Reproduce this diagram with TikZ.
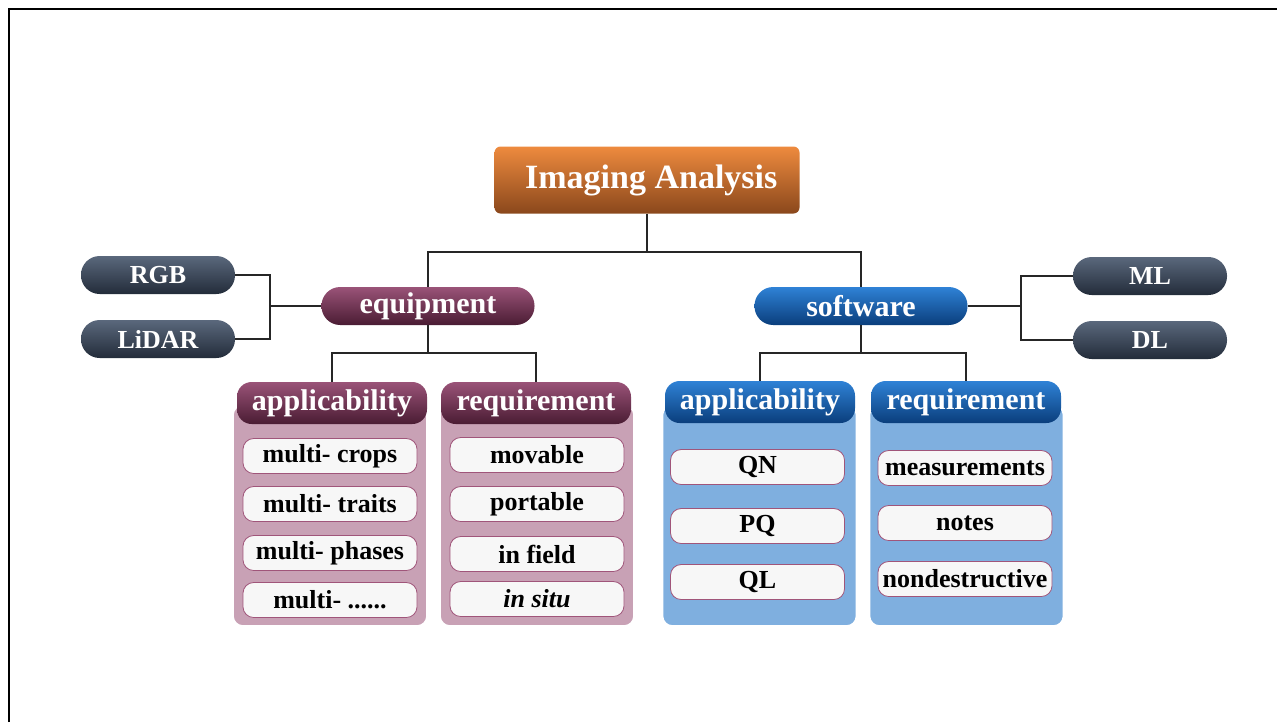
\documentclass[tikz,border=0pt]{standalone}
\usepackage{fontspec}
\setmainfont{Liberation Serif}

\definecolor{orangetop}{HTML}{EE8A3E}
\definecolor{orangebot}{HTML}{8A481C}
\definecolor{plumtop}{HTML}{9A5378}
\definecolor{plumbot}{HTML}{4A1C33}
\definecolor{plumpanel}{HTML}{C8A1B5}
\definecolor{plumline}{HTML}{A0557A}
\definecolor{bluetop}{HTML}{2F82D6}
\definecolor{bluebot}{HTML}{0A3E7C}
\definecolor{bluepanel}{HTML}{7FAFDF}
\definecolor{slatetop}{HTML}{5A687C}
\definecolor{slatebot}{HTML}{232C3A}
\definecolor{itemfill}{HTML}{F7F7F7}

\tikzset{
  titlebox/.style={rounded corners=4.5pt, inner sep=0pt, minimum width=228.75pt, minimum height=50.25pt,
    top color=orangetop, bottom color=orangebot, text=white, font=\bfseries\fontsize{25.5}{30}\selectfont},
  catbox/.style={rounded corners=14pt, inner sep=0pt, minimum width=159.75pt, minimum height=28.5pt,
    text=white, font=\bfseries\fontsize{22.5}{26}\selectfont},
  techbox/.style={rounded corners=14pt, inner sep=0pt, minimum width=115.5pt, minimum height=28.5pt,
    top color=slatetop, bottom color=slatebot, text=white, font=\bfseries\fontsize{19.5}{23}\selectfont},
  headbox/.style={rounded corners=11pt, inner sep=0pt, minimum width=142.5pt, minimum height=31.5pt,
    text=white, font=\bfseries\fontsize{22.5}{26}\selectfont},
  panel/.style={rounded corners=7.5pt, draw=white, line width=1.2pt, minimum width=145.5pt, minimum height=165.75pt},
  itembox/.style={rounded corners=8pt, draw=plumline, line width=0.6pt, fill=itemfill, inner sep=0pt,
    minimum width=130.5pt, minimum height=26.25pt, font=\bfseries\fontsize{19.5}{23}\selectfont},
  plum/.style={top color=plumtop, bottom color=plumbot},
  blue/.style={top color=bluetop, bottom color=bluebot},
  link/.style={draw=black!85, line width=0.9pt}
}

\begin{document}
\begin{tikzpicture}[x=0.75pt,y=0.75pt,yscale=-1,xscale=1]
\useasboundingbox (0,0) rectangle (1277,722);

% frame
\draw[line width=1.9pt] (9,722) -- (9,9) -- (1277,9);

% top levels
\node[titlebox] (title) at (647,180) {\ Imaging Analysis};
\node[catbox, plum] (equip) at (428,306) {equipment};
\node[catbox, blue] (soft) at (861,306) {software};

\node[techbox] (rgb) at (158,275) {RGB};
\node[techbox] (lidar) at (158,339) {LiDAR};
\node[techbox] (ml) at (1150,276) {ML};
\node[techbox] (dl) at (1150,340) {DL};

% panels
\node[panel, fill=plumpanel] (eappbg) at (330,515.5) {};
\node[panel, fill=plumpanel] (ereqbg) at (537,515.5) {};
\node[panel, fill=bluepanel] (sappbg) at (759.5,515.5) {};
\node[panel, fill=bluepanel] (sreqbg) at (966.5,515.5) {};

\node[headbox, plum] (eapp) at (332,403) {applicability};
\node[headbox, plum] (ereq) at (536,403) {requirement};
\node[headbox, blue] (sapp) at (760,402) {applicability};
\node[headbox, blue] (sreq) at (966,402) {requirement};

% items
\node[itembox] (crops) at (330,456) {multi- crops};
\node[itembox] (traits) at (330,504) {multi- traits};
\node[itembox] (phases) at (330,553) {multi- phases};
\node[itembox] (more) at (330,600) {multi- ......};

\node[itembox] (movable) at (537,455) {movable};
\node[itembox] (portable) at (537,504) {portable};
\node[itembox] (infield) at (537,554) {in field};
\node[itembox] (insitu) at (537,599) {\itshape in situ};

\node[itembox] (qn) at (757.5,467) {QN};
\node[itembox] (pq) at (757.5,526) {PQ};
\node[itembox] (ql) at (757.5,582) {QL};

\node[itembox] (meas) at (965,468) {measurements};
\node[itembox] (notes) at (965,523) {notes};
\node[itembox] (nondes) at (965,579) {nondestructive};

% connectors
\coordinate (bus) at (647,252);
\draw[link] (title.south) -- (bus);
\draw[link] (equip.north) |- (bus) -| (soft.north);

\coordinate (ebus) at (428,353);
\draw[link] (equip.south) -- (ebus);
\draw[link] (eapp.north) |- (ebus) -| (ereq.north);

\coordinate (sbus) at (861,353);
\draw[link] (soft.south) -- (sbus);
\draw[link] (sapp.north) |- (sbus) -| (sreq.north);

\coordinate (ljoin) at (270,306);
\draw[link] (rgb.east) -| (ljoin) |- (lidar.east);
\draw[link] (ljoin) -- (equip.west);

\coordinate (rjoin) at (1021,306);
\draw[link] (ml.west) -| (rjoin) |- (dl.west);
\draw[link] (rjoin) -- (soft.east);

\end{tikzpicture}
\end{document}
